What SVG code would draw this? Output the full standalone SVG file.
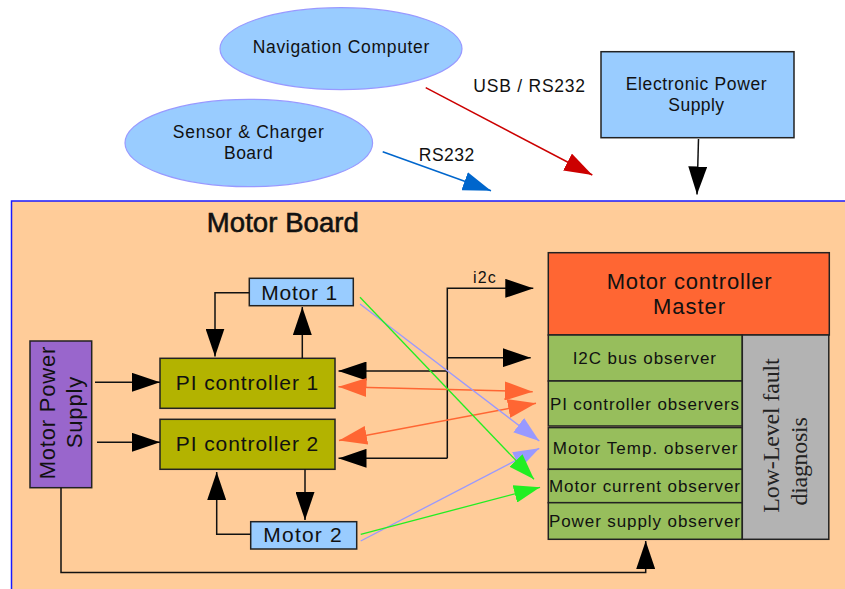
<svg xmlns="http://www.w3.org/2000/svg" width="845" height="589" viewBox="0 0 845 589">
<defs>
<style>
.t{font-family:"Liberation Sans",Arial,sans-serif;fill:#111}
.s{font-family:"Liberation Serif","Times New Roman",serif;fill:#222}
.box{stroke:#222;stroke-width:1.5}
.lb{fill:#99CCFF}
.ell{fill:#99CCFF;stroke:#9999FF;stroke-width:1.2}
.pi{fill:#B3B300}
.obs{fill:#97BE5C}
.c{fill:none}
.k{stroke:#111;stroke-width:1.5}
</style>
<marker id="ak" viewBox="0 0 28 19" refX="28" refY="9.5" markerWidth="28" markerHeight="19" markerUnits="userSpaceOnUse" orient="auto-start-reverse"><path d="M0,0 L28,9.5 L0,19 Z" fill="#000"/></marker>
<marker id="ar" viewBox="0 0 28 19" refX="28" refY="9.5" markerWidth="28" markerHeight="19" markerUnits="userSpaceOnUse" orient="auto-start-reverse"><path d="M0,0 L28,9.5 L0,19 Z" fill="#CC0000"/></marker>
<marker id="ab" viewBox="0 0 28 19" refX="28" refY="9.5" markerWidth="28" markerHeight="19" markerUnits="userSpaceOnUse" orient="auto-start-reverse"><path d="M0,0 L28,9.5 L0,19 Z" fill="#0066CC"/></marker>
<marker id="ao" viewBox="0 0 28 19" refX="28" refY="9.5" markerWidth="28" markerHeight="19" markerUnits="userSpaceOnUse" orient="auto-start-reverse"><path d="M0,0 L28,9.5 L0,19 Z" fill="#FF6633"/></marker>
<marker id="al" viewBox="0 0 26 18" refX="26" refY="9" markerWidth="26" markerHeight="18" markerUnits="userSpaceOnUse" orient="auto"><path d="M0,0 L26,9 L0,18 Z" fill="#9999FF"/></marker>
<marker id="ag" viewBox="0 0 26 18" refX="26" refY="9" markerWidth="26" markerHeight="18" markerUnits="userSpaceOnUse" orient="auto"><path d="M0,0 L26,9 L0,18 Z" fill="#22EE22"/></marker>
</defs>
<rect x="0" y="0" width="845" height="589" fill="#FFFFFF"/>

<g id="motor-board">
<rect x="11.5" y="201" width="845" height="400" fill="#FFCC99" stroke="#1a1aff" stroke-width="1.5"/>
<text class="t" x="282.8" y="231.7" font-size="27.5" text-anchor="middle" textLength="152" stroke="#111" stroke-width="0.6">Motor Board</text>
</g>

<g id="navigation-computer">
<ellipse class="ell" cx="341" cy="48.7" rx="121" ry="41"/>
<text class="t" x="341" y="53.3" font-size="17.5" text-anchor="middle" textLength="176.7">Navigation Computer</text>
</g>

<g id="sensor-charger-board">
<ellipse class="ell" cx="248.8" cy="143" rx="123.8" ry="43.7"/>
<text class="t" x="248.3" y="138.3" font-size="17.5" text-anchor="middle" textLength="151">Sensor &amp; Charger</text>
<text class="t" x="248.3" y="159.3" font-size="17.5" text-anchor="middle" textLength="48.7">Board</text>
</g>

<g id="electronic-power-supply">
<rect class="box lb" x="601" y="51.7" width="193" height="86"/>
<text class="t" x="696.2" y="90" font-size="17.5" text-anchor="middle" textLength="141">Electronic Power</text>
<text class="t" x="696.2" y="110.7" font-size="17.5" text-anchor="middle" textLength="55.7">Supply</text>
</g>

<g id="motor-power-supply">
<rect class="box" fill="#9966CC" x="30" y="341" width="61.7" height="146.7"/>
<text class="t" transform="translate(55,413) rotate(-90)" font-size="22" text-anchor="middle" textLength="132.6">Motor Power</text>
<text class="t" transform="translate(81.5,412.5) rotate(-90)" font-size="22" text-anchor="middle" textLength="71.6">Supply</text>
</g>

<g id="pi-controller-1">
<rect class="box pi" x="160" y="358.3" width="175" height="50"/>
<text class="t" x="247" y="390" font-size="21" text-anchor="middle" textLength="142.6">PI controller 1</text>
</g>

<g id="pi-controller-2">
<rect class="box pi" x="160" y="419.3" width="175" height="50"/>
<text class="t" x="247" y="451" font-size="21" text-anchor="middle" textLength="142.6">PI controller 2</text>
</g>

<g id="motor-1">
<rect class="box lb" x="249.3" y="278.3" width="104" height="27.4"/>
<text class="t" x="299.2" y="300" font-size="21" text-anchor="middle" textLength="76">Motor 1</text>
</g>

<g id="motor-2">
<rect class="box lb" x="250.7" y="521.7" width="106" height="27.3"/>
<text class="t" x="302.5" y="542.3" font-size="21" text-anchor="middle" textLength="78.3">Motor 2</text>
</g>

<g id="motor-controller-master">
<rect class="box" fill="#FF6633" x="548.3" y="252.7" width="281" height="82.3"/>
<text class="t" x="689.2" y="289.3" font-size="22" text-anchor="middle" textLength="165">Motor controller</text>
<text class="t" x="689" y="314" font-size="22" text-anchor="middle" textLength="72">Master</text>
</g>

<g id="i2c-bus-observer">
<rect class="box obs" x="548.3" y="335" width="194" height="46"/>
<text class="t" x="644.3" y="364.3" font-size="17" text-anchor="middle" textLength="143.3">I2C bus observer</text>
</g>

<g id="pi-controller-observers">
<rect class="box obs" x="548.3" y="381" width="194" height="45"/>
<text class="t" x="644.5" y="410" font-size="17" text-anchor="middle" textLength="189">PI controller observers</text>
</g>

<g id="motor-temp-observer">
<rect class="box obs" x="548.3" y="427.6" width="194" height="41.7"/>
<text class="t" x="645" y="454.3" font-size="17" text-anchor="middle" textLength="184.6">Motor Temp. observer</text>
</g>

<g id="motor-current-observer">
<rect class="box obs" x="548.3" y="469.3" width="194" height="33.4"/>
<text class="t" x="644.5" y="491.5" font-size="17" text-anchor="middle" textLength="191">Motor current observer</text>
</g>

<g id="power-supply-observer">
<rect class="box obs" x="548.3" y="502.7" width="194" height="36.6"/>
<text class="t" x="644.5" y="526.7" font-size="17" text-anchor="middle" textLength="191">Power supply observer</text>
</g>

<g id="low-level-fault-diagnosis">
<rect class="box" fill="#B3B3B3" x="742.3" y="335" width="86.5" height="204.3"/>
<text class="s" transform="translate(779,512.7) rotate(-90)" font-size="24" textLength="154.4">Low-Level fault</text>
<text class="s" transform="translate(806.5,505.5) rotate(-90)" font-size="24" textLength="88.3">diagnosis</text>
</g>

<g id="connectors">
<path class="c" d="M382.7,151.7 L491,190.7" stroke="#0066CC" stroke-width="1.5" marker-end="url(#ab)"/>
<path class="c" d="M425.7,87.7 L592.3,175" stroke="#CC0000" stroke-width="1.5" marker-end="url(#ar)"/>
<path class="c k" d="M698.5,139 L697,194.5" marker-end="url(#ak)"/>
<path class="c k" d="M95,382.3 H160" marker-end="url(#ak)"/>
<path class="c k" d="M97,442.3 H160" marker-end="url(#ak)"/>
<path class="c k" d="M249.3,292.7 H215 V356.5" marker-end="url(#ak)"/>
<path class="c k" d="M302.3,358.3 V307" marker-end="url(#ak)"/>
<path class="c k" d="M305,469.3 V520" marker-end="url(#ak)"/>
<path class="c k" d="M250.7,534.3 H216.7 V472" marker-end="url(#ak)"/>
<path class="c k" d="M61,487.7 V572.5 H645.7 V541" marker-end="url(#ak)"/>
<path class="c k" d="M447.3,458.3 V288.3 H533.3" marker-end="url(#ak)"/>
<path class="c k" d="M447.3,357.7 H530.7" marker-end="url(#ak)"/>
<path class="c k" d="M447.3,371 H338.5" marker-end="url(#ak)"/>
<path class="c k" d="M447.3,458.3 H338.5" marker-end="url(#ak)"/>
<path class="c" d="M338.5,386.7 L532.7,391.7" stroke="#FF6633" stroke-width="1.5" marker-start="url(#ao)" marker-end="url(#ao)"/>
<path class="c" d="M339,440.5 L536,403.3" stroke="#FF6633" stroke-width="1.5" marker-start="url(#ao)" marker-end="url(#ao)"/>
<path class="c" d="M360,304 L539.3,441" stroke="#9999FF" stroke-width="1.3" marker-end="url(#al)"/>
<path class="c" d="M360.7,541 L539.3,448.3" stroke="#9999FF" stroke-width="1.3" marker-end="url(#al)"/>
<path class="c" d="M360,297.3 L534,479.3" stroke="#22EE22" stroke-width="1.3" marker-end="url(#ag)"/>
<path class="c" d="M360.7,534.3 L540,487.3" stroke="#22EE22" stroke-width="1.3" marker-end="url(#ag)"/>
<text class="t" x="484.3" y="283.3" font-size="16" text-anchor="middle" textLength="22.7">i2c</text>
<text class="t" x="529.2" y="92.3" font-size="17.5" text-anchor="middle" textLength="111.7">USB / RS232</text>
<text class="t" x="446.5" y="160.8" font-size="17.5" text-anchor="middle" textLength="55.5">RS232</text>
</g>
</svg>
